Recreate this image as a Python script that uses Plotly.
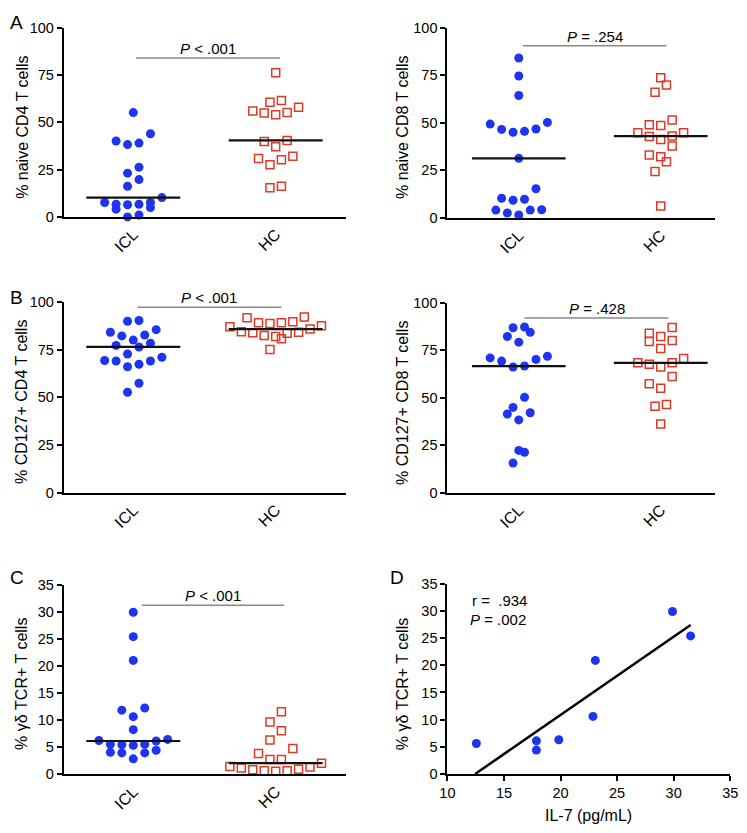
import numpy as np
import plotly.graph_objects as go

W, H = 747, 833

# ---------------- data ----------------
groups = ["ICL", "HC"]

naive_cd4_icl = [55.1, 43.9, 40.1, 38.2, 39.0, 26.3, 23.1, 19.7, 16.2, 10.2,
                 7.6, 4.1, 6.7, 6.4, 6.7, 5.0, 7.6, 0.0, 1.0]
naive_cd4_hc = [76.2, 60.6, 61.5, 56.0, 54.9, 54.0, 55.1, 57.9, 40.4, 39.9,
                37.1, 32.1, 30.2, 30.9, 27.5, 15.4, 16.2]

naive_cd8_icl = [84.0, 74.6, 64.3, 50.2, 46.7, 45.5, 45.0, 46.5, 49.3, 31.3,
                 15.3, 9.8, 9.3, 10.3, 4.3, 4.1, 1.5, 2.6, 4.1]
naive_cd8_hc = [73.7, 69.9, 66.0, 51.4, 48.5, 49.0, 44.7, 44.7, 43.0, 42.8,
                41.2, 37.8, 32.1, 29.5, 33.0, 24.4, 6.3]

cd127_cd4_icl = [90.0, 90.4, 84.2, 85.6, 82.3, 82.8, 80.1, 77.3, 78.5, 76.5,
                 72.8, 71.1, 69.1, 67.4, 66.1, 69.1, 69.4, 57.4, 52.7]
cd127_cd4_hc = [91.9, 92.3, 89.2, 88.8, 89.2, 89.7, 87.1, 87.6, 84.5, 84.0,
                82.5, 82.0, 83.7, 84.2, 85.9, 80.8, 75.1]

cd127_cd8_icl = [86.9, 87.3, 82.3, 84.5, 79.3, 71.0, 69.3, 66.2, 66.7, 70.2,
                 71.9, 50.2, 44.9, 42.1, 41.4, 38.3, 22.2, 21.2, 15.5]
cd127_cd8_hc = [87.1, 82.3, 84.0, 79.7, 80.2, 75.9, 70.7, 68.4, 67.6, 68.4,
                66.2, 61.2, 57.3, 55.0, 46.4, 45.5, 36.1]

gd_icl = [29.9, 25.4, 21.0, 11.8, 12.2, 10.6, 8.2, 6.2, 6.4, 5.5,
          5.4, 5.3, 5.5, 6.1, 4.4, 3.9, 3.9, 4.0, 2.8]
gd_hc = [11.5, 9.6, 8.0, 6.3, 4.7, 3.8, 2.7, 2.7, 2.0,
         1.4, 1.1, 0.8, 0.6, 0.5, 0.6, 0.9, 1.3]

il7 = [12.56, 17.87, 17.87, 19.85, 22.87, 23.08, 29.9, 31.5]
gd_il7 = [5.6, 6.1, 4.4, 6.3, 10.6, 20.9, 29.9, 25.4]

y_titles = ["% naive CD4 T cells", "% naive CD8 T cells",
            "% CD127+ CD4 T cells", "% CD127+ CD8 T cells",
            "% γδ TCR+ T cells", "% γδ TCR+ T cells"]
p_texts = ["<i>P</i> < .001", "<i>P</i> = .254", "<i>P</i> < .001",
           "<i>P</i> = .428", "<i>P</i> < .001"]
panel_letters = ["A", "B", "C", "D"]
x_title_d = "IL-7 (pg/mL)"
corr_texts = ["r =  .934", "<i>P</i> = .002"]

# ---------------- styling / layout ----------------
FONT = "Liberation Sans, Arial, sans-serif"
BLUE = "#1d34f0"
RED = "#dc3a26"

# pixel boxes: (x0, x1, ytop, ybot)
boxes = [
    (57, 345, 20, 213),
    (449, 722, 20, 214),
    (57, 345, 300, 494),
    (449, 722, 300.7, 494),
    (57, 345, 588, 781),
    (449, 738, 587, 781),
]
xr_left = [-0.488, 1.491]
xr_right = [-0.503, 1.379]
yranges = [[0, 100]] * 4 + [[0, 35], [0, 35]]
ytickvals = [[0, 25, 50, 75, 100]] * 4 + [list(range(0, 40, 5))] * 2
sig = [  # (x from, x to, y)
    (0.02, 1.03, 84.0),
    (0.03, 1.04, 90.5),
    (0.03, 1.04, 97.4),
    (0.04, 1.055, 92.0),
    (0.06, 1.06, 31.2),
]

def fx(p):
    return p / W

def fy(p):
    return 1 - p / H

def swarm_offsets(vals, px_per_unit_y, units_per_px_x, spacing=11.7, thresh=12.0):
    vals = np.asarray(vals, float)
    order = np.argsort(vals, kind="stable")
    rows, cur, start = [], [], None
    for i in order:
        if cur and (vals[i] - vals[start]) * px_per_unit_y > thresh:
            rows.append(cur)
            cur = []
        if not cur:
            start = i
        cur.append(i)
    if cur:
        rows.append(cur)
    off = np.zeros(len(vals))
    for row in rows:
        n = len(row)
        if n % 2:
            slots = [0.0]
            k = 1
            while len(slots) < n:
                slots += [-k, k]
                k += 1
        else:
            slots = []
            k = 0.5
            while len(slots) < n:
                slots += [-k, k]
                k += 1
        for idx, s in zip(row, slots[:n]):
            off[idx] = s * spacing * units_per_px_x
    return off

fig = go.Figure()
layout = dict(width=W, height=H, margin=dict(l=0, r=0, t=0, b=0),
              paper_bgcolor="white", plot_bgcolor="white", showlegend=False,
              font=dict(family=FONT, size=14, color="black"))
annotations = []

group_sets = [(naive_cd4_icl, naive_cd4_hc), (naive_cd8_icl, naive_cd8_hc),
              (cd127_cd4_icl, cd127_cd4_hc), (cd127_cd8_icl, cd127_cd8_hc),
              (gd_icl, gd_hc)]

TICKFONT = dict(size=14.5, family=FONT, color="black")
TITLEFONT = dict(size=16, family=FONT, color="black")

for k in range(6):
    x0, x1, yt, yb = boxes[k]
    ax = "" if k == 0 else str(k + 1)
    xname, yname = "x" + ax, "y" + ax
    yr = yranges[k]
    if k < 5:
        xr = xr_left if k % 2 == 0 else xr_right
    else:
        xr = [10, 35]
    pxu_y = (yb - yt) / (yr[1] - yr[0])
    upx_x = (xr[1] - xr[0]) / (x1 - x0)

    xa = dict(domain=[fx(x0), fx(x1)], range=xr, anchor=yname,
              showline=True, linecolor="black", linewidth=2, showgrid=False,
              zeroline=False, fixedrange=True, ticklabeloverflow="allow",
              tickfont=TICKFONT)
    ya = dict(domain=[fy(yb), fy(yt)], range=yr, anchor=xname,
              showline=True, linecolor="black", linewidth=2, showgrid=False,
              zeroline=False, fixedrange=True, ticks="outside", ticklen=5,
              tickwidth=2, tickcolor="black", tickvals=ytickvals[k],
              ticklabeloverflow="allow", tickfont=TICKFONT)
    if k < 5:
        xa.update(tickvals=[0, 1], ticktext=groups, tickangle=-45, ticks="",
                  tickfont=dict(size=16, family=FONT, color="black"))
    else:
        xa.update(tickvals=list(range(10, 40, 5)), ticks="outside", ticklen=5,
                  tickwidth=2, tickcolor="black")
    layout["xaxis" + ax] = xa
    layout["yaxis" + ax] = ya

    if k < 5:
        icl, hc = group_sets[k]
        for gi, (vals, color, sym) in enumerate([(icl, BLUE, "circle"),
                                                 (hc, RED, "square-open")]):
            off = swarm_offsets(vals, pxu_y, upx_x)
            mk = dict(color=color, size=9 if gi == 0 else 8, symbol=sym,
                      line=dict(width=1.5 if gi else 0, color=color))
            fig.add_trace(go.Scatter(x=gi + off, y=vals, mode="markers",
                                     marker=mk, xaxis=xname, yaxis=yname,
                                     cliponaxis=False, hoverinfo="skip"))
            med = float(np.median(vals))
            fig.add_trace(go.Scatter(x=[gi - 0.33, gi + 0.33], y=[med, med],
                                     mode="lines", line=dict(color="#111", width=2.2),
                                     xaxis=xname, yaxis=yname, hoverinfo="skip",
                                     cliponaxis=False))
        sx0, sx1, sy = sig[k]
        fig.add_trace(go.Scatter(x=[sx0, sx1], y=[sy, sy], mode="lines",
                                 line=dict(color="#8a8a8a", width=1.5),
                                 xaxis=xname, yaxis=yname, hoverinfo="skip",
                                 cliponaxis=False))
        annotations.append(dict(x=(sx0 + sx1) / 2, y=sy, xref=xname, yref=yname,
                                text=p_texts[k], showarrow=False, yanchor="bottom",
                                yshift=-1, font=dict(size=15, family=FONT, color="black")))
    else:
        fig.add_trace(go.Scatter(x=il7, y=gd_il7, mode="markers",
                                 marker=dict(color=BLUE, size=9), xaxis=xname,
                                 yaxis=yname, cliponaxis=False, hoverinfo="skip"))
        m, b = np.polyfit(il7, gd_il7, 1)
        xs = np.array([max(-b / m, xr[0]), max(il7)])
        fig.add_trace(go.Scatter(x=xs, y=m * xs + b, mode="lines",
                                 line=dict(color="black", width=2.5),
                                 xaxis=xname, yaxis=yname, hoverinfo="skip"))
        annotations.append(dict(x=fx(472), y=fy(604), xref="paper", yref="paper",
                                text=corr_texts[0], showarrow=False, xanchor="left",
                                yanchor="middle", font=dict(size=15, family=FONT)))
        annotations.append(dict(x=fx(470), y=fy(623), xref="paper", yref="paper",
                                text=corr_texts[1], showarrow=False, xanchor="left",
                                yanchor="middle", font=dict(size=15, family=FONT)))
        annotations.append(dict(x=fx((x0 + x1) / 2), y=fy(823), xref="paper",
                                yref="paper", text=x_title_d, showarrow=False,
                                xanchor="center", yanchor="middle", font=TITLEFONT))

    # y axis title
    tx = 14 if k % 2 == 0 else 403
    annotations.append(dict(x=fx(tx), y=fy((yt + yb) / 2 + 5), xref="paper",
                            yref="paper", text=y_titles[k], textangle=-90,
                            showarrow=False, xanchor="center", yanchor="middle",
                            font=TITLEFONT))

# panel letters
letter_pos = [(9, 15), (9, 295), (9, 581), (398, 581)]
for letter, (lx, ly) in zip(panel_letters, letter_pos):
    annotations.append(dict(x=fx(lx), y=fy(ly), xref="paper", yref="paper",
                            text=letter, showarrow=False, xanchor="center",
                            yanchor="middle", font=dict(size=19, family=FONT, color="black")))

layout["annotations"] = annotations
fig.update_layout(**layout)
fig.write_html("out.html", config={"displayModeBar": False, "staticPlot": True},
               post_script="document.body.style.margin='0px';"
                           "document.body.style.padding='0px';")
